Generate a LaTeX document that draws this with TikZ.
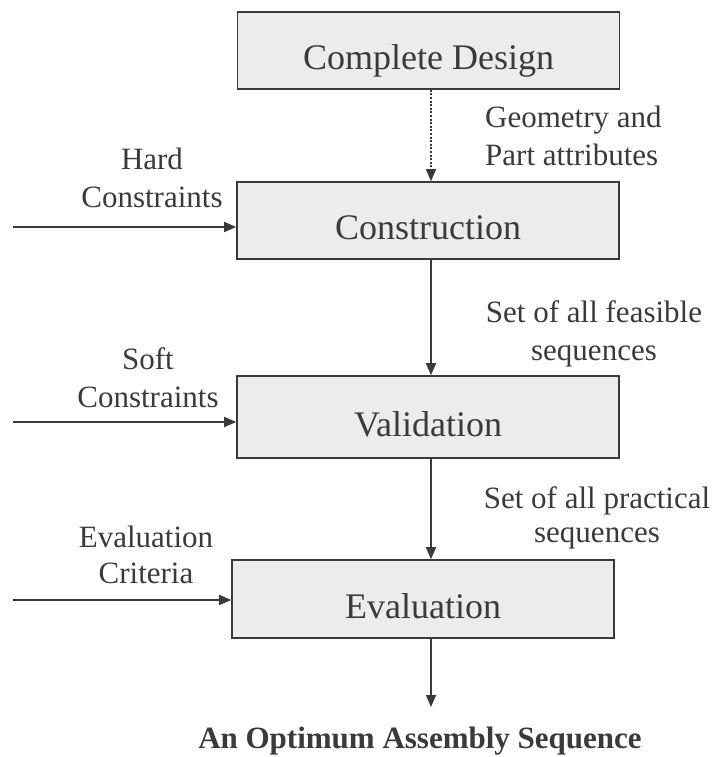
\documentclass[tikz,border=0pt]{standalone}
\usepackage{fontspec}
\setmainfont{Liberation Serif}
\usetikzlibrary{arrows.meta}
\definecolor{ink}{HTML}{3A3A3A}
\definecolor{boxfill}{HTML}{ECECEC}
\begin{document}
\begin{tikzpicture}[x=1pt,y=-1pt,
  stagebox/.style={draw=ink, line width=1.6pt, fill=boxfill, text=ink,
    minimum width=382pt, inner sep=0pt, text height=38pt, text depth=0pt,
    font=\fontsize{36}{40}\selectfont},
  lbl/.style={text=ink, inner sep=0pt, align=center,
    font=\fontsize{31}{38}\selectfont},
  flow/.style={draw=ink, line width=1.7pt,
    -{Triangle[length=12pt,width=10pt]}},
  dotflow/.style={flow, dash pattern=on 2pt off 1.6pt}]
\useasboundingbox (0,0) rectangle (714,757);

% process stages
\node[stagebox, minimum height=77pt] (cd)  at (428.5,50.5) {Complete Design};
\node[stagebox, minimum height=77pt] (con) at (428,220.5) {Construction};
\node[stagebox, minimum height=82pt] (val) at (428,417) {Validation};
\node[stagebox, minimum height=78pt] (eva) at (423,599) {Evaluation};

% main flow column and free ends
\coordinate (col) at (431,0);
\coordinate (out) at (431,707);
\coordinate (hin) at (13,227);
\coordinate (sin) at (13,422);
\coordinate (ein) at (13,600);

\draw[dotflow] (cd.south -| col) -- (con.north -| col);
\draw[flow] (con.south -| col) -- (val.north -| col);
\draw[flow] (val.south -| col) -- (eva.north -| col);
\draw[flow] (eva.south -| col) -- (out);

% external inputs
\draw[flow] (hin) -- (con.west |- hin);
\draw[flow] (sin) -- (val.west |- sin);
\draw[flow] (ein) -- (eva.west |- ein);

% labels (anchor base = baseline of the last line)
\node[lbl, anchor=base] (hard) at (152,207) {Hard\\Constraints};
\node[lbl, anchor=base] (soft) at (148,407) {Soft\\Constraints};
\node[lbl, anchor=base, font=\fontsize{31}{36}\selectfont] (crit) at (146,583) {Evaluation\\Criteria};
\node[lbl, anchor=base west, align=left] (geo) at (485,165) {Geometry and\\Part attributes};
\node[lbl, anchor=base] (feas) at (594,360) {Set of all feasible\\sequences};
\node[lbl, anchor=base, font=\fontsize{31}{34}\selectfont] (prac) at (597,542) {Set of all practical\\sequences};
\node[text=ink, inner sep=0pt, anchor=base, font=\fontsize{31}{36}\selectfont\bfseries] (res) at (420,748) {An Optimum Assembly Sequence};
\end{tikzpicture}
\end{document}
